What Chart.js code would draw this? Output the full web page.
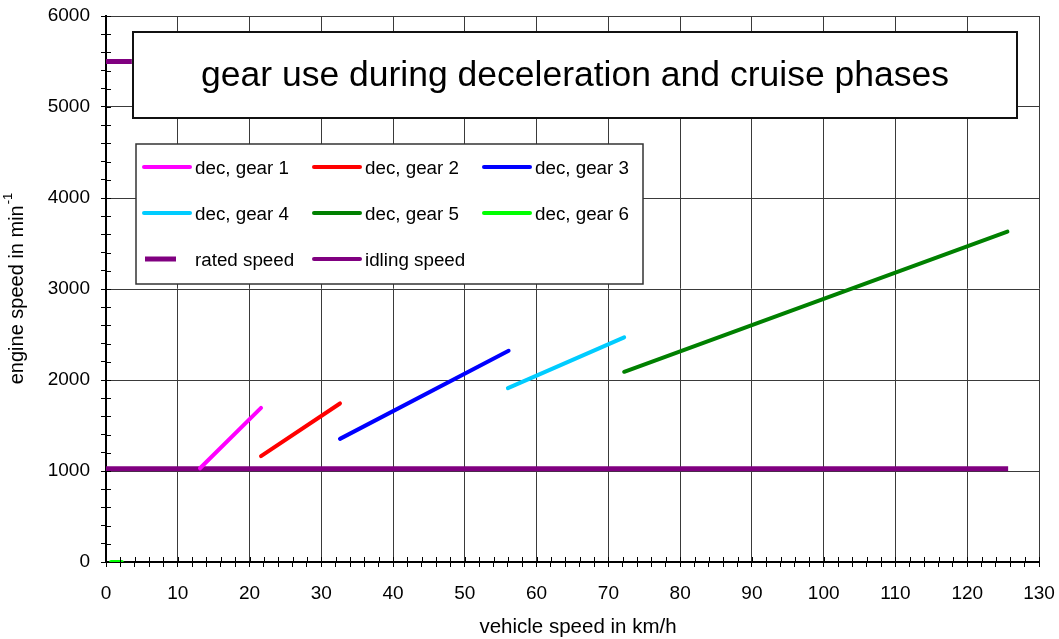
<!DOCTYPE html>
<html>
<head>
<meta charset="utf-8">
<script src="https://cdn.jsdelivr.net/npm/chart.js@4.4.0/dist/chart.umd.min.js"></script>
<style>
  html, body { margin: 0; padding: 0; background: #fff; }
  #wrap { width: 1059px; height: 639px; position: relative; }
</style>
</head>
<body>
<div id="wrap"><canvas id="gearChart"></canvas></div>
<script>
// data
const seriesLabels = ['dec, gear 1', 'dec, gear 2', 'dec, gear 3', 'dec, gear 4', 'dec, gear 5', 'dec, gear 6', 'rated speed', 'idling speed'];
const seriesColors = ['#ff00ff', '#ff0000', '#0000ff', '#00ccff', '#008000', '#00ff00', '#800080', '#800080'];

const gear1X = [13.1, 21.6];   const gear1Y = [1030, 1694];
const gear2X = [21.6, 32.6];   const gear2Y = [1163, 1742];
const gear3X = [32.6, 56.1];   const gear3Y = [1353, 2321];
const gear4X = [56.0, 72.2];   const gear4Y = [1911, 2469];
const gear5X = [72.2, 125.6];  const gear5Y = [2090, 3630];
const gear6X = [0.7, 2.2];     const gear6Y = [0, 0];
const ratedX = [0, 3.6];       const ratedY = [5500, 5500];
const idleX = [0, 125.7];      const idleY = [1025, 1025];

const xTickLabels = [0, 10, 20, 30, 40, 50, 60, 70, 80, 90, 100, 110, 120, 130];
const yTickLabels = [0, 1000, 2000, 3000, 4000, 5000, 6000];

const chartTitle = 'gear use during deceleration and cruise phases';
const xTitle = 'vehicle speed in km/h';
const yTitle = 'engine speed in min';
const yTitleSup = '-1';

const FONT = '"Liberation Sans", Arial, sans-serif';
const pts = (xs, ys) => xs.map((x, i) => ({ x: x, y: ys[i] }));
const allX = [gear1X, gear2X, gear3X, gear4X, gear5X, gear6X, ratedX, idleX];
const allY = [gear1Y, gear2Y, gear3Y, gear4Y, gear5Y, gear6Y, ratedY, idleY];

const datasets = seriesLabels.map((lab, i) => ({
  label: lab,
  data: pts(allX[i], allY[i]),
  showLine: true,
  borderColor: seriesColors[i],
  backgroundColor: seriesColors[i],
  borderWidth: i >= 6 ? 5 : 4,
  borderCapStyle: i >= 6 ? 'butt' : 'round',
  pointRadius: 0,
  pointHoverRadius: 0
}));

// boxes, legend, axis titles and the ticks that cross the axes
const decorPlugin = {
  id: 'decor',
  afterDatasetsDraw(chart) {
    const ctx = chart.ctx;
    const xs = chart.scales.x, ys = chart.scales.y, a = chart.chartArea;
    ctx.save();
    // inner halves of the tick marks
    ctx.strokeStyle = '#000';
    ctx.lineWidth = 1;
    ctx.beginPath();
    for (let v = 0; v <= 130; v += 2) {
      const px = Math.round(xs.getPixelForValue(v)) + 0.5;
      ctx.moveTo(px, a.bottom - 5); ctx.lineTo(px, a.bottom);
    }
    for (let v = 0; v <= 6000; v += 200) {
      const py = Math.round(ys.getPixelForValue(v)) + 0.5;
      ctx.moveTo(a.left, py); ctx.lineTo(a.left + 5, py);
    }
    ctx.stroke();

    // title box
    ctx.fillStyle = '#fff';
    ctx.fillRect(133, 32, 884, 86);
    ctx.strokeStyle = '#111';
    ctx.lineWidth = 2;
    ctx.strokeRect(133, 32, 884, 86);
    ctx.fillStyle = '#000';
    ctx.font = '35.5px ' + FONT;
    ctx.textAlign = 'center';
    ctx.textBaseline = 'middle';
    ctx.fillText(chartTitle, 575, 76);

    // legend box
    ctx.fillStyle = '#fff';
    ctx.fillRect(136, 144, 507, 140);
    ctx.strokeStyle = '#333';
    ctx.lineWidth = 1.5;
    ctx.strokeRect(136, 144, 507, 140);
    const colX = [143, 313, 483];
    const rowY = [167, 213, 259];
    ctx.font = '18.8px ' + FONT;
    ctx.textAlign = 'left';
    chart.data.datasets.forEach((ds, i) => {
      const c = i % 3, r = Math.floor(i / 3);
      const x0 = colX[c], y0 = rowY[r];
      ctx.strokeStyle = ds.borderColor;
      if (i === 6) {
        ctx.lineWidth = 5; ctx.lineCap = 'butt';
        ctx.beginPath(); ctx.moveTo(x0 + 2, y0); ctx.lineTo(x0 + 33, y0); ctx.stroke();
      } else {
        ctx.lineWidth = 4; ctx.lineCap = 'round';
        ctx.beginPath(); ctx.moveTo(x0 + 1, y0); ctx.lineTo(x0 + 47, y0); ctx.stroke();
      }
      ctx.fillStyle = '#000';
      ctx.fillText(ds.label, x0 + 52, y0 + 2);
    });

    // axis titles
    ctx.font = '20.5px ' + FONT;
    ctx.textAlign = 'center';
    ctx.fillText(xTitle, 578, 627);
    ctx.translate(17, 289);
    ctx.rotate(-Math.PI / 2);
    ctx.font = '20px ' + FONT;
    const w1 = ctx.measureText(yTitle).width;
    ctx.font = '13px ' + FONT;
    const w2 = ctx.measureText(yTitleSup).width;
    ctx.textAlign = 'left';
    ctx.font = '20px ' + FONT;
    ctx.fillText(yTitle, -(w1 + w2) / 2, 0);
    ctx.font = '13px ' + FONT;
    ctx.fillText(yTitleSup, -(w1 + w2) / 2 + w1 + 1, -9);
    ctx.restore();
  }
};

new Chart(document.getElementById('gearChart'), {
  type: 'scatter',
  data: { datasets: datasets },
  options: {
    responsive: true,
    maintainAspectRatio: false,
    animation: false,
    layout: { padding: { left: 0, top: 16, right: 20, bottom: 0 } },
    plugins: { legend: { display: false }, tooltip: { enabled: false } },
    scales: {
      x: {
        type: 'linear',
        min: xTickLabels[0],
        max: xTickLabels[xTickLabels.length - 1],
        afterFit: s => { s.height = 77; s.paddingLeft = 0; s.paddingRight = 0; },
        border: { color: '#000', width: 2 },
        grid: {
          color: c => (c.tick && c.tick.value % 10 === 0) ? '#3a3a3a' : 'rgba(0,0,0,0)',
          tickColor: '#000',
          tickLength: 5,
          lineWidth: 1
        },
        ticks: {
          stepSize: 2,
          autoSkip: false,
          maxRotation: 0,
          padding: 15,
          color: '#000',
          font: { family: FONT, size: 19 },
          callback: v => xTickLabels.includes(v) ? String(v) : ''
        }
      },
      y: {
        type: 'linear',
        min: yTickLabels[0],
        max: yTickLabels[yTickLabels.length - 1],
        afterFit: s => { s.width = 106; s.paddingTop = 0; s.paddingBottom = 0; },
        border: { color: '#000', width: 2 },
        grid: {
          color: c => (c.tick && c.tick.value % 1000 === 0) ? '#3a3a3a' : 'rgba(0,0,0,0)',
          tickColor: '#000',
          tickLength: 5,
          lineWidth: 1
        },
        ticks: {
          stepSize: 200,
          autoSkip: false,
          padding: 11,
          color: '#000',
          font: { family: FONT, size: 19 },
          callback: v => yTickLabels.includes(v) ? String(v) : ''
        }
      }
    }
  },
  plugins: [decorPlugin]
});
</script>
</body>
</html>
